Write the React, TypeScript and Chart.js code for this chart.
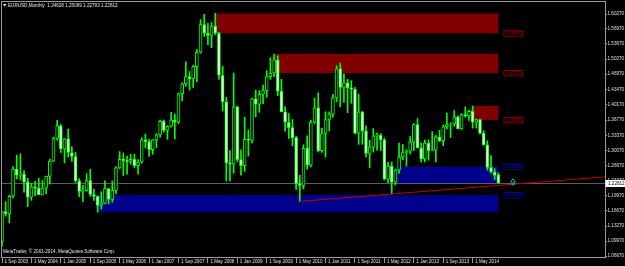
import React, { useEffect, useRef } from "react";
import { Chart, registerables } from "chart.js";

Chart.register(...registerables);

// ---------- categories (monthly slots, Sep 2003 onward) ----------
const MONTH_NAMES = ["Jan", "Feb", "Mar", "Apr", "May", "Jun", "Jul", "Aug", "Sep", "Oct", "Nov", "Dec"];
const FIRST_YEAR = 2003;
const FIRST_MONTH = 8;
const SLOT_COUNT = 165;
const CATEGORIES: string[] = [];
for (let i = 0; i < SLOT_COUNT; i++) {
  const m = (FIRST_MONTH + i) % 12;
  const yr = FIRST_YEAR + Math.floor((FIRST_MONTH + i) / 12);
  CATEGORIES.push(`1 ${MONTH_NAMES[m]} ${yr}`);
}

// ---------- EURUSD monthly OHLC, Sep 2003 .. Dec 2014 ----------
const OPEN = [
  1.0990, 1.1650, 1.1600, 1.1990,
  1.2590, 1.2460, 1.2480, 1.2310, 1.1970, 1.2200, 1.2170, 1.2020, 1.2170, 1.2430, 1.2770, 1.3270,
  1.3550, 1.3040, 1.3260, 1.2960, 1.2870, 1.2330, 1.2100, 1.2120, 1.2340, 1.2030, 1.1990, 1.1790,
  1.1840, 1.2160, 1.1920, 1.2120, 1.2620, 1.2810, 1.2780, 1.2760, 1.2810, 1.2670, 1.2750, 1.3240,
  1.3200, 1.3020, 1.3240, 1.3350, 1.3650, 1.3450, 1.3540, 1.3680, 1.3630, 1.4260, 1.4480, 1.4640,
  1.4590, 1.4860, 1.5180, 1.5790, 1.5600, 1.5550, 1.5760, 1.5600, 1.4670, 1.4080, 1.2730, 1.2700,
  1.3970, 1.2800, 1.2670, 1.3250, 1.3230, 1.4150, 1.4030, 1.4250, 1.4330, 1.4640, 1.4720, 1.5010,
  1.4320, 1.3860, 1.3630, 1.3510, 1.3290, 1.2270, 1.2230, 1.3050, 1.2680, 1.3630, 1.3950, 1.3000,
  1.3380, 1.3690, 1.3810, 1.4170, 1.4810, 1.4400, 1.4500, 1.4390, 1.4360, 1.3390, 1.3860, 1.3440,
  1.2940, 1.3080, 1.3330, 1.3340, 1.3240, 1.2370, 1.2660, 1.2300, 1.2575, 1.2860, 1.2960, 1.2990,
  1.3190, 1.3580, 1.3060, 1.2820, 1.3170, 1.3000, 1.3010, 1.3300, 1.3220, 1.3530, 1.3580, 1.3590,
  1.3750, 1.3480, 1.3800, 1.3770, 1.3870, 1.3630, 1.3690, 1.3390, 1.3130, 1.2630, 1.2530, 1.24628,
];
const HIGH = [
  1.1650, 1.1870, 1.2010, 1.2650,
  1.2900, 1.2930, 1.2560, 1.2390, 1.2280, 1.2320, 1.2390, 1.2340, 1.2440, 1.2810, 1.3300, 1.3670,
  1.3580, 1.3270, 1.3480, 1.3090, 1.2960, 1.2380, 1.2230, 1.2490, 1.2590, 1.2150, 1.2000, 1.2090,
  1.2330, 1.2170, 1.2330, 1.2650, 1.2980, 1.2950, 1.2880, 1.2920, 1.2920, 1.2800, 1.3290, 1.3370,
  1.3250, 1.3250, 1.3380, 1.3680, 1.3680, 1.3550, 1.3850, 1.3810, 1.4280, 1.4500, 1.4970, 1.4750,
  1.4890, 1.5240, 1.5900, 1.6020, 1.5820, 1.5840, 1.6040, 1.5620, 1.4870, 1.4180, 1.3000, 1.4720,
  1.3990, 1.3020, 1.3740, 1.3460, 1.4160, 1.4340, 1.4330, 1.4450, 1.4770, 1.5060, 1.5140, 1.5100,
  1.4580, 1.3970, 1.3820, 1.3690, 1.3320, 1.2460, 1.3130, 1.3330, 1.3670, 1.4160, 1.4280, 1.3500,
  1.3860, 1.3860, 1.4250, 1.4880, 1.4940, 1.4700, 1.4580, 1.4550, 1.4400, 1.4250, 1.3870, 1.3550,
  1.3230, 1.3490, 1.3390, 1.3380, 1.3280, 1.2750, 1.2750, 1.2590, 1.3170, 1.3140, 1.3020, 1.3310,
  1.3600, 1.3710, 1.3170, 1.3240, 1.3240, 1.3420, 1.3340, 1.3450, 1.3570, 1.3830, 1.3620, 1.3890,
  1.3770, 1.3820, 1.3970, 1.3900, 1.3990, 1.3700, 1.3700, 1.3440, 1.3220, 1.2890, 1.2600, 1.25069,
];
const LOW = [
  1.0890, 1.1550, 1.1400, 1.1960,
  1.2370, 1.2350, 1.2080, 1.1760, 1.1900, 1.2000, 1.2020, 1.2020, 1.2040, 1.2260, 1.2760, 1.3230,
  1.2960, 1.2730, 1.2860, 1.2760, 1.2300, 1.1980, 1.1870, 1.2100, 1.1990, 1.1900, 1.1640, 1.1710,
  1.1820, 1.1820, 1.1860, 1.2050, 1.2600, 1.2450, 1.2480, 1.2700, 1.2620, 1.2480, 1.2720, 1.3060,
  1.2870, 1.2920, 1.3070, 1.3300, 1.3410, 1.3250, 1.3520, 1.3260, 1.3600, 1.4100, 1.4430, 1.4340,
  1.4400, 1.4530, 1.5160, 1.5530, 1.5350, 1.5280, 1.5570, 1.4580, 1.3880, 1.2330, 1.2330, 1.2500,
  1.2760, 1.2460, 1.2540, 1.2880, 1.3170, 1.3750, 1.3850, 1.4040, 1.4180, 1.4580, 1.4640, 1.4220,
  1.3860, 1.3430, 1.3270, 1.3110, 1.2140, 1.1876, 1.2150, 1.2590, 1.2640, 1.3600, 1.2970, 1.2960,
  1.2860, 1.3440, 1.3740, 1.4080, 1.3970, 1.4070, 1.3840, 1.4050, 1.3370, 1.3140, 1.3140, 1.2860,
  1.2620, 1.2970, 1.3010, 1.3000, 1.2350, 1.2290, 1.2040, 1.2240, 1.2500, 1.2800, 1.2660, 1.2930,
  1.3000, 1.3060, 1.2750, 1.2750, 1.2790, 1.2990, 1.2750, 1.3200, 1.3110, 1.3480, 1.3290, 1.3540,
  1.3480, 1.3470, 1.3740, 1.3670, 1.3500, 1.3500, 1.3370, 1.3120, 1.2570, 1.2500, 1.2360, 1.22793,
];
const CLOSE = [
  1.1650, 1.1600, 1.1990, 1.2590,
  1.2460, 1.2480, 1.2310, 1.1970, 1.2200, 1.2170, 1.2020, 1.2170, 1.2430, 1.2770, 1.3270, 1.3550,
  1.3040, 1.3260, 1.2960, 1.2870, 1.2330, 1.2100, 1.2120, 1.2340, 1.2030, 1.1990, 1.1790, 1.1840,
  1.2160, 1.1920, 1.2120, 1.2620, 1.2810, 1.2780, 1.2760, 1.2810, 1.2670, 1.2750, 1.3240, 1.3200,
  1.3020, 1.3240, 1.3350, 1.3650, 1.3450, 1.3540, 1.3680, 1.3630, 1.4260, 1.4480, 1.4640, 1.4590,
  1.4860, 1.5180, 1.5790, 1.5600, 1.5550, 1.5760, 1.5600, 1.4670, 1.4080, 1.2730, 1.2700, 1.3970,
  1.2800, 1.2670, 1.3250, 1.3230, 1.4150, 1.4030, 1.4250, 1.4330, 1.4640, 1.4720, 1.5010, 1.4320,
  1.3860, 1.3630, 1.3510, 1.3290, 1.2270, 1.2230, 1.3050, 1.2680, 1.3630, 1.3950, 1.3000, 1.3380,
  1.3690, 1.3810, 1.4170, 1.4810, 1.4400, 1.4500, 1.4390, 1.4360, 1.3390, 1.3860, 1.3440, 1.2940,
  1.3080, 1.3330, 1.3340, 1.3240, 1.2370, 1.2660, 1.2300, 1.2575, 1.2860, 1.2960, 1.2990, 1.3190,
  1.3580, 1.3060, 1.2820, 1.3170, 1.3000, 1.3010, 1.3300, 1.3220, 1.3530, 1.3580, 1.3590, 1.3750,
  1.3480, 1.3800, 1.3770, 1.3870, 1.3630, 1.3690, 1.3390, 1.3130, 1.2630, 1.2530, 1.2450, 1.22812,
];

// ---------- axis ticks ----------
const X_TICK_LABELS = [
  "1 Sep 2003", "1 May 2004", "1 Jan 2005", "1 Sep 2005", "1 May 2006", "1 Jan 2007",
  "1 Sep 2007", "1 May 2008", "1 Jan 2009", "1 Sep 2009", "1 May 2010", "1 Jan 2011",
  "1 Sep 2011", "1 May 2012", "1 Jan 2013", "1 Sep 2013", "1 May 2014",
];
const Y_TICKS = [
  1.6027, 1.5697, 1.5367, 1.5027, 1.4697, 1.4347, 1.4017, 1.3677, 1.3337,
  1.3007, 1.2667, 1.2337, 1.1997, 1.1667, 1.1327, 1.0997, 1.0667,
];
const Y_MIN = 1.0645;
const Y_MAX = 1.6315;

// ---------- drawn objects ----------
const ZONE_FROM = ["1 Jul 2008", "1 Nov 2009", "1 May 2014", "1 Aug 2012", "1 Nov 2005"];
const ZONE_TO = ["1 Dec 2014", "1 Dec 2014", "1 Dec 2014", "1 Dec 2014", "1 Dec 2014"];
const ZONE_HIGH = [1.6038, 1.5145, 1.3993, 1.2650, 1.2020];
const ZONE_LOW = [1.5600, 1.4720, 1.3680, 1.2270, 1.1640];
const ZONE_KIND = ["supply", "supply", "supply", "demand", "demand"];
const ZONE_LABEL = [1.56000, 1.47200, 1.36800, 1.26500, 1.20200];

const TREND_DATES = ["1 Jun 2010", "1 Jul 2012"];
const TREND_PRICES = [1.1876, 1.2040];
const ARROW_DATE = "1 Apr 2015";
const ARROW_PRICE = 1.2310;

const SYMBOL = "EURUSD,Monthly";
const COPYRIGHT = "MetaTrader, © 2001-2014, MetaQuotes Software Corp.";

// ---------- styles ----------
const FONT = "Liberation Sans, Arial, sans-serif";
const FS = 4.6;
const LIME = "#00ff00";
const SUPPLY_FILL = "#800000";
const DEMAND_FILL = "#00008b";

const last = OPEN.length - 1;
const BID = CLOSE[last];

const overlay = {
  id: "mtOverlay",
  beforeDatasetsDraw(chart: any) {
    const { ctx, chartArea: a, scales } = chart;
    const x = scales.x;
    const y = scales.y;
    const ix = (d: string) => CATEGORIES.indexOf(d);
    ctx.save();
    ctx.beginPath();
    ctx.rect(a.left, a.top, a.right - a.left, a.bottom - a.top);
    ctx.clip();
    for (let i = 0; i < ZONE_FROM.length; i++) {
      const x0 = x.getPixelForValue(ix(ZONE_FROM[i]));
      const x1 = x.getPixelForValue(ix(ZONE_TO[i]));
      const y0 = y.getPixelForValue(ZONE_HIGH[i]);
      const y1 = y.getPixelForValue(ZONE_LOW[i]);
      ctx.fillStyle = ZONE_KIND[i] === "supply" ? SUPPLY_FILL : DEMAND_FILL;
      ctx.fillRect(x0, y0, x1 - x0, y1 - y0);
    }
    // bid line
    const by = Math.round(y.getPixelForValue(BID)) + 0.5;
    ctx.strokeStyle = "#5c5c66";
    ctx.lineWidth = 1;
    ctx.beginPath();
    ctx.moveTo(a.left, by);
    ctx.lineTo(a.right, by);
    ctx.stroke();
    ctx.restore();
  },
  afterDatasetsDraw(chart: any) {
    const { ctx, chartArea: a, scales } = chart;
    const x = scales.x;
    const y = scales.y;
    const ix = (d: string) => CATEGORIES.indexOf(d);
    ctx.save();
    ctx.beginPath();
    ctx.rect(a.left, a.top, a.right - a.left, a.bottom - a.top);
    ctx.clip();
    // trend ray
    const px1 = x.getPixelForValue(ix(TREND_DATES[0]));
    const py1 = y.getPixelForValue(TREND_PRICES[0]);
    const px2 = x.getPixelForValue(ix(TREND_DATES[1]));
    const py2 = y.getPixelForValue(TREND_PRICES[1]);
    const slope = (py2 - py1) / (px2 - px1);
    ctx.strokeStyle = "#c80000";
    ctx.lineWidth = 1;
    ctx.beginPath();
    ctx.moveTo(px1, py1);
    ctx.lineTo(a.right + 2, py1 + slope * (a.right + 2 - px1));
    ctx.stroke();
    // zone labels
    ctx.font = `${FS}px ${FONT}`;
    ctx.textBaseline = "middle";
    ctx.textAlign = "left";
    for (let i = 0; i < ZONE_FROM.length; i++) {
      const lx = x.getPixelForValue(ix(ZONE_TO[i])) + 5;
      const ly = y.getPixelForValue(ZONE_LABEL[i]);
      const red = ZONE_KIND[i] === "supply";
      ctx.fillStyle = "#000";
      ctx.fillRect(lx, ly - 3, 19.5, 6);
      ctx.strokeStyle = red ? "#800000" : "#000090";
      ctx.strokeRect(lx + 0.5, ly - 2.5, 19, 5.5);
      ctx.fillStyle = red ? "#b00000" : "#1010b0";
      ctx.fillText(ZONE_LABEL[i].toFixed(5), lx + 2, ly + 0.3);
    }
    // arrow
    const ax = x.getPixelForValue(ix(ARROW_DATE));
    const ay = y.getPixelForValue(ARROW_PRICE);
    ctx.strokeStyle = "#18b0b0";
    ctx.lineWidth = 1;
    ctx.beginPath();
    ctx.moveTo(ax, ay - 3);
    ctx.lineTo(ax + 2.5, ay);
    ctx.lineTo(ax + 1, ay);
    ctx.lineTo(ax + 1, ay + 3);
    ctx.lineTo(ax - 1, ay + 3);
    ctx.lineTo(ax - 1, ay);
    ctx.lineTo(ax - 2.5, ay);
    ctx.closePath();
    ctx.stroke();
    ctx.restore();
  },
  afterDraw(chart: any) {
    const { ctx, chartArea: a, scales } = chart;
    const y = scales.y;
    ctx.save();
    // frame
    ctx.strokeStyle = "#9a9a9a";
    ctx.lineWidth = 1;
    ctx.strokeRect(a.left - 0.5, a.top + 0.5, a.right - a.left + 1, a.bottom - a.top);
    // title
    ctx.fillStyle = "#e8e8e8";
    ctx.beginPath();
    ctx.moveTo(3, 4);
    ctx.lineTo(6.5, 4);
    ctx.lineTo(4.75, 6.5);
    ctx.closePath();
    ctx.fill();
    ctx.font = `${FS}px ${FONT}`;
    ctx.textBaseline = "middle";
    ctx.textAlign = "left";
    const t = `${SYMBOL}  ${OPEN[last].toFixed(5)} ${HIGH[last].toFixed(5)} ${LOW[last].toFixed(5)} ${CLOSE[last].toFixed(5)}`;
    ctx.fillText(t, 8, 5.5);
    // copyright
    ctx.fillText(COPYRIGHT, 3, 252);
    // bid label
    const by = Math.round(y.getPixelForValue(BID)) + 0.5;
    ctx.fillStyle = "#ffffff";
    ctx.fillRect(a.right + 0.5, by - 3.5, 625 - a.right, 7);
    ctx.fillStyle = "#000";
    ctx.fillText(BID.toFixed(5), a.right + 3, by + 0.3);
    ctx.restore();
  },
};

export default function App() {
  const ref = useRef<HTMLCanvasElement | null>(null);
  useEffect(() => {
    document.body.style.margin = "0";
    document.body.style.background = "#000";
    const canvas = ref.current;
    if (!canvas) return;
    const wicks = LOW.map((l, i) => [l, HIGH[i]]);
    const bodies = OPEN.map((o, i) => [o, CLOSE[i]]);
    const bodyColors = OPEN.map((o, i) => (CLOSE[i] >= o ? "#000000" : "#f4fff4"));
    const chart = new Chart(canvas, {
      type: "bar",
      data: {
        labels: CATEGORIES,
        datasets: [
          {
            label: "body",
            data: bodies as any,
            backgroundColor: bodyColors,
            borderColor: LIME,
            borderWidth: 1,
            borderSkipped: false,
            barThickness: 3,
            grouped: false,
            order: 0,
          } as any,
          {
            label: "wick",
            data: wicks as any,
            backgroundColor: LIME,
            borderWidth: 0,
            barThickness: 1,
            grouped: false,
            order: 1,
          } as any,
        ],
      },
      plugins: [overlay],
      options: {
        responsive: false,
        animation: false,
        devicePixelRatio: 1,
        layout: { padding: { left: 2, top: 1, right: 0, bottom: 0 } },
        plugins: { legend: { display: false }, tooltip: { enabled: false } },
        scales: {
          x: {
            type: "category",
            offset: false,
            grid: { display: true, offset: false, drawOnChartArea: false, drawTicks: true, tickLength: 6, color: "#9a9a9a" },
            border: { display: false },
            afterBuildTicks: (s: any) => {
              s.ticks = s.ticks.filter((tk: any) => X_TICK_LABELS.includes(CATEGORIES[tk.value]));
            },
            afterFit: (s: any) => {
              s.height = 9;
              s.paddingLeft = 0;
              s.paddingRight = 0;
            },
            ticks: {
              autoSkip: false,
              maxRotation: 0,
              minRotation: 0,
              align: "start",
              labelOffset: 2.5,
              padding: -4.5,
              color: "#e0e0e0",
              font: { family: FONT, size: FS },
              callback: (v: any) => CATEGORIES[v],
            },
          },
          y: {
            type: "linear",
            position: "right",
            min: Y_MIN,
            max: Y_MAX,
            grid: { display: true, drawOnChartArea: false, drawTicks: true, tickLength: 2, color: "#9a9a9a" },
            border: { display: false },
            afterBuildTicks: (s: any) => {
              s.ticks = Y_TICKS.map((v) => ({ value: v }));
            },
            afterFit: (s: any) => {
              s.width = 20;
              s.paddingTop = 0;
              s.paddingBottom = 0;
            },
            ticks: {
              padding: 0.5,
              color: "#e0e0e0",
              font: { family: FONT, size: FS },
              callback: (v: any) => Number(v).toFixed(5),
            },
          },
        },
      } as any,
    });
    return () => chart.destroy();
  }, []);
  return (
    <canvas ref={ref} width={625} height={266} style={{ display: "block", background: "#000" }} />
  );
}
